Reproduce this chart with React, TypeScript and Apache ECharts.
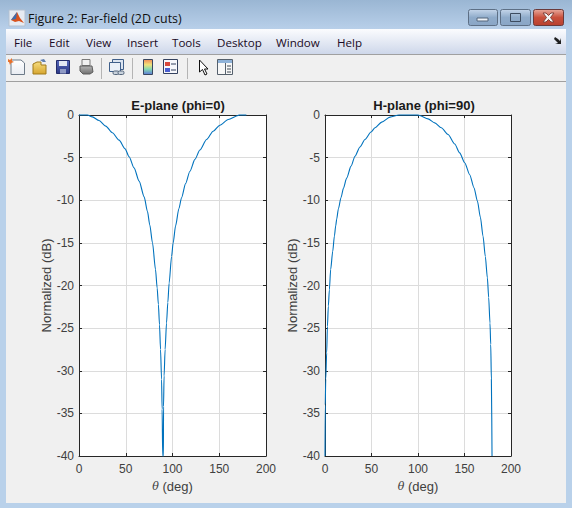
import React, { useEffect, useRef } from "react";
import * as echarts from "echarts";

const windowTitle = "Figure 2: Far-field (2D cuts)";
const menuLabels = ["File", "Edit", "View", "Insert", "Tools", "Desktop", "Window", "Help"];
const menuX = [14, 49, 86, 127, 172, 217, 276, 337];
const xTicks = [0, 200];
const ePlaneCut: [number, number][] = [
  [0, 0], [9, 0], [14.3, -0.22], [21.5, -0.65], [28.6, -1.3], [35.7, -2.09], [42.9, -2.95], [49.3, -3.97],
  [53.6, -4.9], [58.9, -6.2], [64.3, -7.76], [69.7, -9.6], [73.2, -11.3], [75.7, -12.9], [78.6, -15],
  [81.8, -18.1], [83.6, -20.3], [84.9, -22.2], [86.1, -24.6], [87.2, -27.5], [88.3, -31], [88.9, -34.5],
  [89.5, -40], [90.3, -40], [90.4, -34.2], [91, -30.6], [92.1, -27.5], [93.6, -24.4], [95, -22],
  [96.4, -19.7], [99, -16.6], [100.7, -15], [103.3, -13], [106.8, -11], [109.7, -9.7], [114, -8.05],
  [118.6, -6.6], [124, -5.2], [129.3, -4.1], [136.5, -2.87], [143.5, -1.9], [150.7, -1.2], [159.6, -0.53],
  [170.3, -0.06], [171, 0], [179, 0],
];
const hPlaneCut: [number, number][] = [
  [0, -40], [0.3, -34], [0.5, -34], [0.8, -31], [1.8, -27.9], [2.6, -24.8], [3.6, -22.4], [4.7, -20.5],
  [6.1, -18.1], [8.3, -16.0], [10.1, -14.2], [11.5, -13.0], [12.6, -12.2], [14.4, -11.0], [17.2, -9.7],
  [19.8, -8.6], [23.3, -7.4], [28, -6], [32.3, -4.83], [37.6, -3.75], [43, -2.87], [49.5, -2],
  [53.8, -1.5], [61, -0.84], [69.9, -0.25], [79.6, 0], [100, 0], [101.8, -0.06], [110.8, -0.45],
  [118, -0.92], [125.1, -1.5], [132.3, -2.29], [139.5, -3.4], [144.8, -4.44], [150.2, -5.6], [155.6, -7],
  [160.2, -8.54], [163.9, -10.1], [167.1, -12], [169.9, -14.2], [172.4, -16.6], [174.6, -19.1],
  [176, -21.4], [177.4, -24.4], [178.2, -26.9], [178.9, -31], [179.6, -40],
];
const panelTitles = ["E-plane (phi=0)", "H-plane (phi=90)"];

const vgrad = (a: string, b: string, c?: string) => ({
  type: "linear", x: 0, y: 0, x2: 0, y2: 1,
  colorStops: c
    ? [{ offset: 0, color: a }, { offset: 0.5, color: b }, { offset: 1, color: c }]
    : [{ offset: 0, color: a }, { offset: 1, color: b }],
});
const rect = (x: number, y: number, w: number, h: number, fill: any, stroke?: string, r = 0) => ({
  type: "rect", shape: { x, y, width: w, height: h, r }, style: { fill, stroke: stroke ?? "none", lineWidth: 1 }, silent: true,
});
const poly = (pts: number[][], fill: any, stroke?: string) => ({
  type: "polygon", shape: { points: pts }, style: { fill, stroke: stroke ?? "none", lineWidth: 1 }, silent: true,
});
const hline = (x1: number, y1: number, x2: number, y2: number, stroke: string, lineWidth = 1) => ({
  type: "line", shape: { x1, y1, x2, y2 }, style: { stroke, lineWidth }, silent: true,
});
const label = (text: string, x: number, y: number, fill: string, size = 12) => ({
  type: "text", x, y, silent: true,
  style: { text, fill, font: `${size}px "Open Sans", "Noto Sans", sans-serif`, textVerticalAlign: "middle", verticalAlign: "middle" },
});

function chrome() {
  return [
    rect(0, 0, 572, 30, vgrad("#9ab6d3", "#b9d0ea")),
    rect(0, 30, 6, 478, "#b9d1ea"),
    rect(566, 30, 6, 478, "#b9d1ea"),
    rect(0, 503, 572, 5, "#b9d1ea"),
    rect(6, 29, 560, 25, vgrad("#fbfcfe", "#ced7ea")),
    hline(6, 54.5, 566, 54.5, "#a0a0a0"),
    hline(6, 81.5, 566, 81.5, "#a0a0a0"),
    // matlab logo
    rect(9, 10, 16, 16, "#e6ebf2", "#b3c1d1"),
    poly([[11, 20], [17, 12], [20, 18], [24, 23], [19, 21], [15, 22]], "#d9531e"),
    poly([[11, 20], [17, 12], [16, 19]], "#3c6db0"),
    label(windowTitle, 28, 18, "#101010", 12.4),
    // window buttons
    rect(468.5, 9.5, 29, 16, vgrad("#c5d6ea", "#8fabca", "#8aa6c6"), "#5d6f85", 2),
    rect(477, 18, 11, 3, "#eef2f7", "#55677d"),
    rect(500.5, 9.5, 30, 16, vgrad("#c5d6ea", "#8fabca", "#8aa6c6"), "#5d6f85", 2),
    rect(510.5, 13.5, 10, 8, "none", "#3d4c60"),
    rect(533.5, 9.5, 30, 16, vgrad("#e8a99c", "#c9503c", "#b8402f"), "#6a3a3a", 2),
    poly([[543, 13], [546, 13], [548.5, 15.5], [551, 13], [554, 13], [550.5, 17.5], [554, 22], [551, 22], [548.5, 19.5], [546, 22], [543, 22], [546.5, 17.5]], "#f4f4f4", "#80433c"),
    // menu
    ...menuLabels.map((m, i) => label(m, menuX[i], 42, "#1a0a24", 11.6)),
    poly([[555, 37], [558, 39], [560, 41], [561, 38], [561, 44], [555, 44], [558, 43], [554, 39]], "#202020"),
    // toolbar: new
    poly([[11, 60], [21, 60], [24.5, 63], [24.5, 74.5], [11, 74.5]], vgrad("#ffffff", "#e8ecf2"), "#6d7a88"),
    poly([[8, 59], [10, 60], [12, 58], [12, 61], [14, 62], [11, 63], [10, 65], [9, 62], [8, 62]], "#e8702a"),
    // open
    poly([[33, 64], [37, 62], [41, 62], [41, 65], [46, 65], [46, 74], [33, 74]], vgrad("#f6dc7e", "#d6a52e"), "#a07a1a"),
    poly([[40, 60], [44, 59], [46, 62], [43, 62]], "#5f7fb0"),
    // save
    rect(56.5, 60.5, 13, 13, vgrad("#5566bb", "#2d3a86"), "#232c6a"),
    rect(59, 61, 8, 5, "#e3e8f4"),
    rect(60, 69, 6, 4.5, "#8f9ac5"),
    // print
    rect(82, 59.5, 8, 6, "#f1f1f1", "#7a7a7a"),
    poly([[80, 66], [92, 66], [93, 72], [90, 74], [83, 74], [80, 71]], vgrad("#b5b5b5", "#6f6f6f"), "#5d5d5d"),
    hline(101.5, 58, 101.5, 79, "#b4b4b4"),
    // link
    rect(112.5, 59.5, 11, 10, "#dbe4f0", "#3f5f8a"),
    rect(109.5, 62.5, 11, 9, "#eaf0f8", "#3f5f8a"),
    rect(113, 71, 6, 3.5, "#c9d2dc", "#56677c", 1.5),
    rect(118, 71, 6, 3.5, "#c9d2dc", "#56677c", 1.5),
    hline(132.5, 58, 132.5, 79, "#b4b4b4"),
    // colorbar
    rect(143.5, 59.5, 9, 15, {
      type: "linear", x: 0, y: 0, x2: 0, y2: 1,
      colorStops: [
        { offset: 0, color: "#f08a5a" }, { offset: 0.35, color: "#f0e27a" },
        { offset: 0.65, color: "#84d8b0" }, { offset: 1, color: "#5d78d8" },
      ],
    }, "#38465e"),
    // legend
    rect(163.5, 59.5, 14, 14, "#f6f7fb", "#33415f"),
    rect(165, 62, 5, 4, "#d8493c"),
    rect(165, 68, 5, 4, "#4a5ed0"),
    hline(171, 64, 176, 64, "#33415f"),
    hline(171, 70, 176, 70, "#33415f"),
    hline(187.5, 58, 187.5, 79, "#b4b4b4"),
    // cursor
    poly([[199.5, 60], [199.5, 72], [202.5, 69.5], [205, 75], [207, 74], [204.5, 69], [208, 69]], "#ffffff", "#101010"),
    // panel
    rect(217.5, 59.5, 15, 15, "#f7f7f7", "#55606c"),
    rect(218, 60, 14, 3, "#8fb2d8"),
    hline(225.5, 63, 225.5, 74, "#55606c"),
    hline(227, 66, 231, 66, "#404a55"),
    hline(227, 69, 231, 69, "#404a55"),
    hline(227, 72, 231, 72, "#404a55"),
  ];
}

const AXIS = "#262626";
const TEXT = "#404040";
const axisFont = '"Liberation Sans", Arial, sans-serif';

function xAx(grid: number, main: boolean) {
  return {
    type: "value", gridIndex: grid, min: xTicks[0], max: xTicks[1], interval: 50,
    position: main ? "bottom" : "top",
    name: main ? "{i|θ} (deg)" : "", nameLocation: "middle", nameGap: 20,
    nameTextStyle: { color: TEXT, fontSize: 13, fontFamily: axisFont, rich: { i: { fontStyle: "italic", fontFamily: '"DejaVu Serif", serif', fontSize: 11, color: TEXT } } },
    axisLine: { show: true, onZero: false, lineStyle: { color: AXIS, width: 1 } },
    axisTick: { show: true, inside: true, length: 3, lineStyle: { color: AXIS, width: 1 } },
    axisLabel: { show: main, color: TEXT, fontSize: 12, fontFamily: axisFont, margin: 7, hideOverlap: false },
    splitLine: { show: main, lineStyle: { color: "#dcdcdc", width: 1 } },
  };
}
function yAx(grid: number, main: boolean) {
  return {
    type: "value", gridIndex: grid, min: -40, max: 0, interval: 5,
    position: main ? "left" : "right",
    name: main ? "Normalized (dB)" : "", nameLocation: "middle", nameGap: 25, nameRotate: 90,
    nameTextStyle: { color: TEXT, fontSize: 13, fontFamily: axisFont },
    axisLine: { show: true, onZero: false, lineStyle: { color: AXIS, width: 1 } },
    axisTick: { show: true, inside: true, length: 3, lineStyle: { color: AXIS, width: 1 } },
    axisLabel: { show: main, color: TEXT, fontSize: 12, fontFamily: axisFont, margin: 5, hideOverlap: false },
    splitLine: { show: main, lineStyle: { color: "#dcdcdc", width: 1 } },
  };
}

export default function App() {
  const ref = useRef<HTMLDivElement>(null);
  useEffect(() => {
    document.body.style.margin = "0";
    const chart = echarts.init(ref.current!, undefined, { renderer: "svg" });
    const titleStyle = { color: "#1a1a1a", fontSize: 13, fontWeight: "bold" as const, fontFamily: axisFont };
    chart.setOption({
      animation: false,
      backgroundColor: "#f0f0f0",
      title: [
        { text: panelTitles[0], left: 173, top: 94, textAlign: "center", textStyle: titleStyle },
        { text: panelTitles[1], left: 419, top: 94, textAlign: "center", textStyle: titleStyle },
      ],
      grid: [
        { left: 79, top: 115, width: 187, height: 341, show: true, backgroundColor: "#ffffff", borderWidth: 0 },
        { left: 325, top: 115, width: 186, height: 341, show: true, backgroundColor: "#ffffff", borderWidth: 0 },
      ],
      xAxis: [xAx(0, true), xAx(1, true), xAx(0, false), xAx(1, false)],
      yAxis: [yAx(0, true), yAx(1, true), yAx(0, false), yAx(1, false)],
      series: [
        { type: "line", xAxisIndex: 0, yAxisIndex: 0, data: ePlaneCut, showSymbol: false, clip: false, z: 5, smooth: 0.25, smoothMonotone: "x", lineStyle: { color: "#0072bd", width: 1.1 } },
        { type: "line", xAxisIndex: 1, yAxisIndex: 1, data: hPlaneCut, showSymbol: false, clip: false, z: 5, smooth: 0.25, smoothMonotone: "x", lineStyle: { color: "#0072bd", width: 1.1 } },
      ],
      graphic: { elements: chrome() },
    });
    return () => chart.dispose();
  }, []);
  return <div ref={ref} style={{ position: "absolute", left: 0, top: 0, width: 572, height: 508 }} />;
}
